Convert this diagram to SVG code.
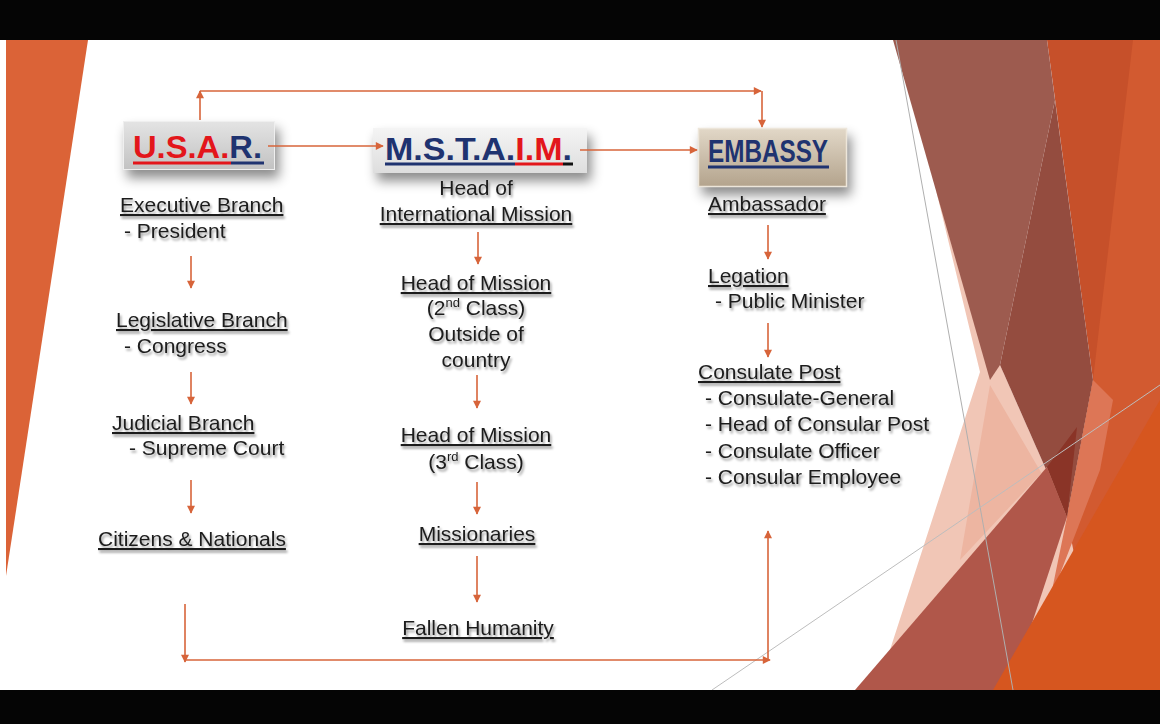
<svg xmlns="http://www.w3.org/2000/svg" width="1160" height="724" viewBox="0 0 1160 724">
<defs>
<style>
.t{font-family:"Liberation Sans",Arial,sans-serif;font-size:21px;fill:#1c1c1c;}
.c{text-anchor:middle;}
.u{text-decoration:underline;}
.con{fill:none;stroke:#D7643A;stroke-width:1.6;}
.ttl{font-family:"Liberation Sans",Arial,sans-serif;font-weight:bold;font-size:31px;}
</style>
<marker id="ah" viewBox="0 0 10 10" refX="9" refY="5" markerWidth="9" markerHeight="8" orient="auto" markerUnits="userSpaceOnUse">
<path d="M0,0 L10,5 L0,10 z" fill="#D7643A"/>
</marker>
<filter id="ts" x="-10%" y="-30%" width="130%" height="180%">
<feDropShadow dx="1.5" dy="2.5" stdDeviation="1.3" flood-color="#000" flood-opacity="0.4"/>
</filter>
<filter id="bs" x="-20%" y="-30%" width="150%" height="190%">
<feDropShadow dx="4" dy="8" stdDeviation="6" flood-color="#000" flood-opacity="0.45"/>
</filter>
<linearGradient id="gGray" x1="0" y1="0" x2="0" y2="1">
<stop offset="0" stop-color="#E4E4E4"/><stop offset="1" stop-color="#C2C2C2"/>
</linearGradient>
<linearGradient id="gLight" x1="0" y1="0" x2="0" y2="1">
<stop offset="0" stop-color="#F4F4F4"/><stop offset="1" stop-color="#DEDEDE"/>
</linearGradient>
<linearGradient id="gBeige" x1="0" y1="0" x2="0" y2="1">
<stop offset="0" stop-color="#E2D8C8"/><stop offset="1" stop-color="#B3A38C"/>
</linearGradient>
</defs>

<!-- background -->
<rect x="0" y="0" width="1160" height="724" fill="#FFFFFF"/>
<g id="decor">
<polygon points="6,40 88,40 6,576" fill="#DB6337"/>
<polygon points="1047,40 1160,40 1160,690 1000,690 1067,517 1093,380" fill="#C6502A"/>
<polygon points="1133,40 1160,40 1160,690 1040,690 1093,380" fill="#D25A30"/>
<polygon points="936,190 980,372 877,690 1100,690 1067,517 1000,365" fill="#F1C6B6"/>
<polygon points="893,40 1047,40 1055,100 1000,365 990,380" fill="#9D5B4F"/>
<polygon points="1055,100 1093,380 1067,517 1000,365" fill="#944C3F"/>
<polygon points="990,385 1067,517 1047,467 960,560" fill="#EDB5A1"/>
<polygon points="855,690 1047,467 1067,517 1010,690" fill="#B0574A"/>
<polygon points="1067,517 1093,380 1113,400 1100,470 1050,600" fill="#DD7656"/>
<polygon points="1047,467 1077,427 1067,517" fill="#8A3427"/>
<polygon points="993,690 1160,400 1160,690" fill="#D6561F"/>
<line x1="896" y1="40" x2="1013" y2="690" stroke="#AFAFAF" stroke-width="1"/>
<line x1="712" y1="690" x2="1160" y2="385" stroke="#BDBDBD" stroke-width="1"/>
</g>
<rect x="0" y="0" width="1160" height="40" fill="#050505"/>
<rect x="0" y="690" width="1160" height="34" fill="#050505"/>

<!-- title boxes -->
<g id="usar">
<rect x="123" y="121" width="152" height="49" fill="url(#gGray)" filter="url(#bs)"/>
<rect x="123.5" y="121.5" width="151" height="48" fill="none" stroke="#EFEFEF" stroke-width="1"/>
<text class="ttl" x="133" y="158" textLength="129" lengthAdjust="spacingAndGlyphs"><tspan fill="#E3161B">U.S.A.</tspan><tspan fill="#1F3370">R.</tspan></text>
<line x1="133" y1="163" x2="231" y2="163" stroke="#E3161B" stroke-width="3"/>
<line x1="231" y1="163" x2="264" y2="163" stroke="#1F3370" stroke-width="3"/>
</g>

<g id="mstaim">
<rect x="373" y="128" width="214" height="45" fill="url(#gLight)" filter="url(#bs)"/>
<text class="ttl" x="385" y="160" textLength="187" lengthAdjust="spacingAndGlyphs"><tspan fill="#1F3370">M.S.T.A.</tspan><tspan fill="#E3161B">I.M</tspan><tspan fill="#1F3370">.</tspan></text>
<line x1="385" y1="164" x2="515" y2="164" stroke="#1F3370" stroke-width="3"/>
<line x1="515" y1="164" x2="563" y2="164" stroke="#E3161B" stroke-width="3"/>
<line x1="563" y1="164" x2="573" y2="164" stroke="#111111" stroke-width="3"/>
</g>

<g id="embassy">
<rect x="698" y="128" width="149" height="59" fill="url(#gBeige)" filter="url(#bs)"/>
<rect x="698.5" y="128.5" width="148" height="58" fill="none" stroke="#EDE6DA" stroke-width="1.5"/>
<text class="ttl" x="708" y="162" fill="#1F3370" font-size="27" textLength="120" lengthAdjust="spacingAndGlyphs">EMBASSY</text>
<line x1="708" y1="167" x2="829" y2="167" stroke="#1F3370" stroke-width="3"/>
</g>

<!-- connectors -->
<g id="connectors">
<path class="con" d="M268,146 H383" marker-end="url(#ah)"/>
<path class="con" d="M580,150 H697" marker-end="url(#ah)"/>
<path class="con" d="M200,120 V91" marker-end="url(#ah)"/>
<path class="con" d="M200,91 H761" marker-end="url(#ah)"/>
<path class="con" d="M762,91 V127" marker-end="url(#ah)"/>
<path class="con" d="M191,256 V288" marker-end="url(#ah)"/>
<path class="con" d="M191,372 V404" marker-end="url(#ah)"/>
<path class="con" d="M191,480 V513" marker-end="url(#ah)"/>
<path class="con" d="M478,232 V264" marker-end="url(#ah)"/>
<path class="con" d="M477,375 V408" marker-end="url(#ah)"/>
<path class="con" d="M477,482 V514" marker-end="url(#ah)"/>
<path class="con" d="M477,556 V602" marker-end="url(#ah)"/>
<path class="con" d="M768,225 V259" marker-end="url(#ah)"/>
<path class="con" d="M768,323 V357" marker-end="url(#ah)"/>
<path class="con" d="M185,604 V662" marker-end="url(#ah)"/>
<path class="con" d="M185,660 H770" marker-end="url(#ah)"/>
<path class="con" d="M768,660 V531" marker-end="url(#ah)"/>
</g>

<g filter="url(#ts)">
<!-- left column -->
<g id="executive">
<text class="t u" x="120" y="212">Executive Branch</text>
<text class="t" x="124" y="238">- President</text>
</g>
<g id="legislative">
<text class="t u" x="116" y="327">Legislative Branch</text>
<text class="t" x="124" y="353">- Congress</text>
</g>
<g id="judicial">
<text class="t u" x="112" y="430">Judicial Branch</text>
<text class="t" x="129" y="455">- Supreme Court</text>
</g>
<g id="citizens">
<text class="t u" x="98" y="546">Citizens &amp; Nationals</text>
</g>

<!-- middle column -->
<g id="head-international">
<text class="t c" x="476" y="195">Head of</text>
<text class="t c u" x="476" y="221">International Mission</text>
</g>
<g id="head-2nd">
<text class="t c u" x="476" y="290">Head of Mission</text>
<text class="t c" x="476" y="315">(2<tspan font-size="13" dy="-8">nd</tspan><tspan dy="8"> Class)</tspan></text>
<text class="t c" x="476" y="341">Outside of</text>
<text class="t c" x="476" y="367">country</text>
</g>
<g id="head-3rd">
<text class="t c u" x="476" y="442">Head of Mission</text>
<text class="t c" x="476" y="469">(3<tspan font-size="13" dy="-8">rd</tspan><tspan dy="8"> Class)</tspan></text>
</g>
<g id="missionaries">
<text class="t c u" x="477" y="541">Missionaries</text>
</g>
<g id="fallen">
<text class="t c u" x="478" y="635">Fallen Humanity</text>
</g>

<!-- right column -->
<g id="ambassador">
<text class="t u" x="708" y="211">Ambassador</text>
</g>
<g id="legation">
<text class="t u" x="708" y="283">Legation</text>
<text class="t" x="715" y="308">- Public Minister</text>
</g>
<g id="consulate">
<text class="t u" x="698" y="379">Consulate Post</text>
<text class="t" x="705" y="405">- Consulate-General</text>
<text class="t" x="705" y="431">- Head of Consular Post</text>
<text class="t" x="705" y="458">- Consulate Officer</text>
<text class="t" x="705" y="484">- Consular Employee</text>
</g>
</g>
</svg>
